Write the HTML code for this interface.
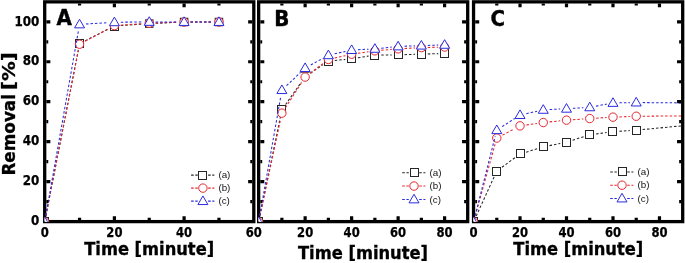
<!DOCTYPE html>
<html><head><meta charset="utf-8"><title>Removal vs Time</title>
<style>html,body{margin:0;padding:0;background:#fff;}svg{display:block;}</style>
</head><body>
<svg width="685" height="263" viewBox="0 0 685 263">
<rect width="685" height="263" fill="#fff"/>
<clipPath id="clipA"><rect x="44.70" y="1.85" width="209.10" height="219.75"/></clipPath>
<rect x="44.70" y="1.85" width="209.10" height="219.75" fill="none" stroke="#000" stroke-width="3.3"/>
<g clip-path="url(#clipA)">
<path d="M45.93 215.62L78.32 49.91 M85.26 40.74L108.69 28.90 M120.78 25.57L142.87 24.04 M155.64 23.31L177.71 22.29 M190.50 22.00L212.55 22.00" fill="none" stroke="#262626" stroke-width="1.05" stroke-dasharray="2.5 2"/>
<rect x="40.50" y="217.50" width="8.00" height="8.00" fill="#fff" stroke="#262626" stroke-width="1.0"/>
<rect x="75.50" y="39.50" width="8.00" height="8.00" fill="#fff" stroke="#262626" stroke-width="1.0"/>
<rect x="110.50" y="22.50" width="8.00" height="8.00" fill="#fff" stroke="#262626" stroke-width="1.0"/>
<rect x="145.50" y="19.85" width="7.50" height="7.50" fill="#fff" stroke="#262626" stroke-width="1.0"/>
<rect x="180.35" y="18.25" width="7.50" height="7.50" fill="#fff" stroke="#262626" stroke-width="1.0"/>
<rect x="215.20" y="18.25" width="7.50" height="7.50" fill="#fff" stroke="#262626" stroke-width="1.0"/>
<path d="M45.93 215.62L78.32 50.51 M85.19 41.22L108.76 28.62 M120.78 25.17L142.87 23.64 M155.65 22.98L177.70 22.22 M190.50 22.00L212.55 22.00" fill="none" stroke="#e8242c" stroke-width="1.05" stroke-dasharray="2.5 2"/>
<circle cx="44.70" cy="221.90" r="4.20" fill="#fff" stroke="#e8242c" stroke-width="1.0"/>
<circle cx="79.55" cy="44.23" r="4.20" fill="#fff" stroke="#e8242c" stroke-width="1.0"/>
<circle cx="114.40" cy="25.61" r="4.20" fill="#fff" stroke="#e8242c" stroke-width="1.0"/>
<circle cx="149.25" cy="23.20" r="4.20" fill="#fff" stroke="#e8242c" stroke-width="1.0"/>
<circle cx="184.10" cy="22.00" r="4.20" fill="#fff" stroke="#e8242c" stroke-width="1.0"/>
<circle cx="218.95" cy="22.00" r="4.20" fill="#fff" stroke="#e8242c" stroke-width="1.0"/>
<path d="M45.81 215.60L78.44 30.71 M85.94 24.01L108.01 22.65 M120.80 22.19L142.85 21.97 M155.65 21.92L177.70 21.98 M190.50 22.00L212.55 22.00" fill="none" stroke="#2a2adf" stroke-width="1.05" stroke-dasharray="2.5 2"/>
<path d="M39.70 225.35L49.70 225.35L44.70 216.75Z" fill="#fff" stroke="#2a2adf" stroke-width="1.0" stroke-linejoin="miter"/>
<path d="M74.55 27.85L84.55 27.85L79.55 19.25Z" fill="#fff" stroke="#2a2adf" stroke-width="1.0" stroke-linejoin="miter"/>
<rect x="108.80" y="16.26" width="11.2" height="9.6" fill="#fff"/>
<path d="M109.40 25.71L119.40 25.71L114.40 17.11Z" fill="#fff" stroke="#2a2adf" stroke-width="1.0" stroke-linejoin="miter"/>
<path d="M144.25 25.35L154.25 25.35L149.25 16.75Z" fill="#fff" stroke="#2a2adf" stroke-width="1.0" stroke-linejoin="miter"/>
<path d="M179.10 25.45L189.10 25.45L184.10 16.85Z" fill="#fff" stroke="#2a2adf" stroke-width="1.0" stroke-linejoin="miter"/>
<path d="M213.95 25.45L223.95 25.45L218.95 16.85Z" fill="#fff" stroke="#2a2adf" stroke-width="1.0" stroke-linejoin="miter"/>
</g>
<path d="M79.55 3.50v2.1 M79.55 219.95v-2.1 M114.40 3.50v3.8 M114.40 219.95v-3.8 M149.25 3.50v2.1 M149.25 219.95v-2.1 M184.10 3.50v3.8 M184.10 219.95v-3.8 M218.95 3.50v2.1 M218.95 219.95v-2.1 M46.35 201.62h1.9 M252.15 201.62h-1.9 M46.35 181.64h4.0 M252.15 181.64h-4.0 M46.35 161.66h1.9 M252.15 161.66h-1.9 M46.35 141.68h4.0 M252.15 141.68h-4.0 M46.35 121.70h1.9 M252.15 121.70h-1.9 M46.35 101.72h4.0 M252.15 101.72h-4.0 M46.35 81.74h1.9 M252.15 81.74h-1.9 M46.35 61.76h4.0 M252.15 61.76h-4.0 M46.35 41.78h1.9 M252.15 41.78h-1.9 M46.35 21.80h4.0 M252.15 21.80h-4.0" stroke="#000" stroke-width="3.2" stroke-linecap="butt" fill="none"/>
<text x="56.5" y="24.8" font-family='"DejaVu Sans Condensed","DejaVu Sans","Liberation Sans",sans-serif' font-weight="bold" font-size="22" stroke="#000" stroke-width="0.4">A</text>
<text x="44.70" y="236.7" text-anchor="middle" textLength="8.1" lengthAdjust="spacingAndGlyphs" font-family='"DejaVu Sans Condensed","DejaVu Sans","Liberation Sans",sans-serif' font-weight="bold" font-size="13.2" stroke="#000" stroke-width="0.25">0</text>
<text x="114.40" y="236.7" text-anchor="middle" textLength="16.1" lengthAdjust="spacingAndGlyphs" font-family='"DejaVu Sans Condensed","DejaVu Sans","Liberation Sans",sans-serif' font-weight="bold" font-size="13.2" stroke="#000" stroke-width="0.25">20</text>
<text x="184.10" y="236.7" text-anchor="middle" textLength="16.1" lengthAdjust="spacingAndGlyphs" font-family='"DejaVu Sans Condensed","DejaVu Sans","Liberation Sans",sans-serif' font-weight="bold" font-size="13.2" stroke="#000" stroke-width="0.25">40</text>
<text x="253.80" y="236.7" text-anchor="middle" textLength="16.1" lengthAdjust="spacingAndGlyphs" font-family='"DejaVu Sans Condensed","DejaVu Sans","Liberation Sans",sans-serif' font-weight="bold" font-size="13.2" stroke="#000" stroke-width="0.25">60</text>
<text x="149.2" y="254.8" text-anchor="middle" textLength="130" stroke="#000" stroke-width="0.3" lengthAdjust="spacingAndGlyphs" font-family='"DejaVu Sans Condensed","DejaVu Sans","Liberation Sans",sans-serif' font-weight="bold" font-size="17.3">Time [minute]</text>
<path d="M191.10 175.10H197.70M208.10 175.10H214.30" stroke="#262626" stroke-width="1.05" stroke-dasharray="2.6 1.6" fill="none"/>
<rect x="198.50" y="171.50" width="8.00" height="8.00" fill="#fff" stroke="#262626" stroke-width="1.0"/>
<text x="218.4" y="178.30" font-family='"Liberation Sans",sans-serif' font-size="9.8" fill="#111">(a)</text>
<path d="M191.10 188.10H197.70M208.10 188.10H214.30" stroke="#e8242c" stroke-width="1.05" stroke-dasharray="2.6 1.6" fill="none"/>
<circle cx="202.90" cy="188.10" r="4.20" fill="#fff" stroke="#e8242c" stroke-width="1.0"/>
<text x="218.4" y="191.30" font-family='"Liberation Sans",sans-serif' font-size="9.8" fill="#111">(b)</text>
<path d="M191.10 201.10H197.70M208.10 201.10H214.30" stroke="#2a2adf" stroke-width="1.05" stroke-dasharray="2.6 1.6" fill="none"/>
<path d="M197.90 204.55L207.90 204.55L202.90 195.95Z" fill="#fff" stroke="#2a2adf" stroke-width="1.0" stroke-linejoin="miter"/>
<text x="218.4" y="204.30" font-family='"Liberation Sans",sans-serif' font-size="9.8" fill="#111">(c)</text>
<clipPath id="clipB"><rect x="258.65" y="1.85" width="209.05" height="219.75"/></clipPath>
<rect x="258.65" y="1.85" width="209.05" height="219.75" fill="none" stroke="#000" stroke-width="3.3"/>
<g clip-path="url(#clipB)">
<path d="M259.95 215.63L280.60 116.00 M285.58 104.50L301.45 82.01 M310.44 73.20L323.08 64.64 M334.76 60.46L345.26 59.46 M357.95 57.82L368.56 56.08 M381.27 54.99L391.72 54.90 M404.52 54.66L414.97 54.34 M427.76 53.96L438.21 53.64" fill="none" stroke="#262626" stroke-width="1.05" stroke-dasharray="2.5 2"/>
<rect x="254.50" y="217.50" width="8.00" height="8.00" fill="#fff" stroke="#262626" stroke-width="1.0"/>
<rect x="277.50" y="105.50" width="8.00" height="8.00" fill="#fff" stroke="#262626" stroke-width="1.0"/>
<path d="M300.64 72.2H309.64" stroke="#262626" stroke-width="1" fill="none"/>
<rect x="324.50" y="57.50" width="8.00" height="8.00" fill="#fff" stroke="#262626" stroke-width="1.0"/>
<rect x="347.50" y="54.50" width="8.00" height="8.00" fill="#fff" stroke="#262626" stroke-width="1.0"/>
<rect x="370.50" y="51.50" width="8.00" height="8.00" fill="#fff" stroke="#262626" stroke-width="1.0"/>
<rect x="394.50" y="50.50" width="8.00" height="8.00" fill="#fff" stroke="#262626" stroke-width="1.0"/>
<rect x="417.50" y="50.50" width="8.00" height="8.00" fill="#fff" stroke="#262626" stroke-width="1.0"/>
<rect x="440.50" y="49.50" width="8.00" height="8.00" fill="#fff" stroke="#262626" stroke-width="1.0"/>
<path d="M259.99 215.64L280.56 119.40 M285.36 107.76L301.67 82.46 M310.24 73.22L323.29 63.32 M334.63 58.06L345.38 55.65 M357.96 53.32L368.54 51.77 M381.25 50.29L391.74 49.39 M404.51 48.51L414.97 47.97 M427.76 47.47L438.21 47.20" fill="none" stroke="#e8242c" stroke-width="1.05" stroke-dasharray="2.5 2"/>
<circle cx="258.65" cy="221.90" r="4.20" fill="#fff" stroke="#e8242c" stroke-width="1.0"/>
<circle cx="281.89" cy="113.14" r="4.20" fill="#fff" stroke="#e8242c" stroke-width="1.0"/>
<circle cx="305.14" cy="77.08" r="4.20" fill="#fff" stroke="#e8242c" stroke-width="1.0"/>
<circle cx="328.38" cy="59.46" r="4.20" fill="#fff" stroke="#e8242c" stroke-width="1.0"/>
<circle cx="351.63" cy="54.25" r="4.20" fill="#fff" stroke="#e8242c" stroke-width="1.0"/>
<circle cx="374.88" cy="50.84" r="4.20" fill="#fff" stroke="#e8242c" stroke-width="1.0"/>
<circle cx="398.12" cy="48.84" r="4.20" fill="#fff" stroke="#e8242c" stroke-width="1.0"/>
<circle cx="421.37" cy="47.64" r="4.20" fill="#fff" stroke="#e8242c" stroke-width="1.0"/>
<circle cx="444.61" cy="47.04" r="4.20" fill="#fff" stroke="#e8242c" stroke-width="1.0"/>
<path d="M259.76 215.60L280.78 96.41 M286.54 85.70L300.50 72.47 M310.74 64.98L322.78 58.34 M334.63 53.85L345.38 51.44 M358.02 49.71L368.48 49.17 M381.24 48.18L391.75 47.10 M404.52 46.22L414.97 45.86 M427.76 45.42L438.21 45.06" fill="none" stroke="#2a2adf" stroke-width="1.05" stroke-dasharray="2.5 2"/>
<path d="M253.65 225.35L263.65 225.35L258.65 216.75Z" fill="#fff" stroke="#2a2adf" stroke-width="1.0" stroke-linejoin="miter"/>
<path d="M276.89 93.55L286.89 93.55L281.89 84.95Z" fill="#fff" stroke="#2a2adf" stroke-width="1.0" stroke-linejoin="miter"/>
<path d="M300.14 71.52L310.14 71.52L305.14 62.92Z" fill="#fff" stroke="#2a2adf" stroke-width="1.0" stroke-linejoin="miter"/>
<path d="M323.38 58.70L333.38 58.70L328.38 50.10Z" fill="#fff" stroke="#2a2adf" stroke-width="1.0" stroke-linejoin="miter"/>
<path d="M346.63 53.49L356.63 53.49L351.63 44.89Z" fill="#fff" stroke="#2a2adf" stroke-width="1.0" stroke-linejoin="miter"/>
<path d="M369.88 52.29L379.88 52.29L374.88 43.69Z" fill="#fff" stroke="#2a2adf" stroke-width="1.0" stroke-linejoin="miter"/>
<path d="M393.12 49.89L403.12 49.89L398.12 41.29Z" fill="#fff" stroke="#2a2adf" stroke-width="1.0" stroke-linejoin="miter"/>
<path d="M416.37 49.09L426.37 49.09L421.37 40.49Z" fill="#fff" stroke="#2a2adf" stroke-width="1.0" stroke-linejoin="miter"/>
<path d="M439.61 48.28L449.61 48.28L444.61 39.68Z" fill="#fff" stroke="#2a2adf" stroke-width="1.0" stroke-linejoin="miter"/>
</g>
<path d="M281.89 3.50v2.1 M281.89 219.95v-2.1 M305.14 3.50v3.8 M305.14 219.95v-3.8 M328.38 3.50v2.1 M328.38 219.95v-2.1 M351.63 3.50v3.8 M351.63 219.95v-3.8 M374.88 3.50v2.1 M374.88 219.95v-2.1 M398.12 3.50v3.8 M398.12 219.95v-3.8 M421.37 3.50v2.1 M421.37 219.95v-2.1 M444.61 3.50v3.8 M444.61 219.95v-3.8 M260.30 201.62h1.9 M466.05 201.62h-1.9 M260.30 181.64h4.0 M466.05 181.64h-4.0 M260.30 161.66h1.9 M466.05 161.66h-1.9 M260.30 141.68h4.0 M466.05 141.68h-4.0 M260.30 121.70h1.9 M466.05 121.70h-1.9 M260.30 101.72h4.0 M466.05 101.72h-4.0 M260.30 81.74h1.9 M466.05 81.74h-1.9 M260.30 61.76h4.0 M466.05 61.76h-4.0 M260.30 41.78h1.9 M466.05 41.78h-1.9 M260.30 21.80h4.0 M466.05 21.80h-4.0" stroke="#000" stroke-width="3.2" stroke-linecap="butt" fill="none"/>
<text x="274.3" y="25.7" font-family='"DejaVu Sans Condensed","DejaVu Sans","Liberation Sans",sans-serif' font-weight="bold" font-size="22" stroke="#000" stroke-width="0.4">B</text>
<text x="305.14" y="236.7" text-anchor="middle" textLength="16.1" lengthAdjust="spacingAndGlyphs" font-family='"DejaVu Sans Condensed","DejaVu Sans","Liberation Sans",sans-serif' font-weight="bold" font-size="13.2" stroke="#000" stroke-width="0.25">20</text>
<text x="351.63" y="236.7" text-anchor="middle" textLength="16.1" lengthAdjust="spacingAndGlyphs" font-family='"DejaVu Sans Condensed","DejaVu Sans","Liberation Sans",sans-serif' font-weight="bold" font-size="13.2" stroke="#000" stroke-width="0.25">40</text>
<text x="398.12" y="236.7" text-anchor="middle" textLength="16.1" lengthAdjust="spacingAndGlyphs" font-family='"DejaVu Sans Condensed","DejaVu Sans","Liberation Sans",sans-serif' font-weight="bold" font-size="13.2" stroke="#000" stroke-width="0.25">60</text>
<text x="444.61" y="236.7" text-anchor="middle" textLength="16.1" lengthAdjust="spacingAndGlyphs" font-family='"DejaVu Sans Condensed","DejaVu Sans","Liberation Sans",sans-serif' font-weight="bold" font-size="13.2" stroke="#000" stroke-width="0.25">80</text>
<text x="363" y="258.8" text-anchor="middle" textLength="130" stroke="#000" stroke-width="0.3" lengthAdjust="spacingAndGlyphs" font-family='"DejaVu Sans Condensed","DejaVu Sans","Liberation Sans",sans-serif' font-weight="bold" font-size="17.3">Time [minute]</text>
<path d="M402.20 172.70H408.80M419.20 172.70H425.40" stroke="#262626" stroke-width="1.05" stroke-dasharray="2.6 1.6" fill="none"/>
<rect x="410.50" y="168.50" width="8.00" height="8.00" fill="#fff" stroke="#262626" stroke-width="1.0"/>
<text x="429.5" y="175.90" font-family='"Liberation Sans",sans-serif' font-size="9.8" fill="#111">(a)</text>
<path d="M402.20 186.05H408.80M419.20 186.05H425.40" stroke="#e8242c" stroke-width="1.05" stroke-dasharray="2.6 1.6" fill="none"/>
<circle cx="414.00" cy="186.05" r="4.20" fill="#fff" stroke="#e8242c" stroke-width="1.0"/>
<text x="429.5" y="189.25" font-family='"Liberation Sans",sans-serif' font-size="9.8" fill="#111">(b)</text>
<path d="M402.20 199.40H408.80M419.20 199.40H425.40" stroke="#2a2adf" stroke-width="1.05" stroke-dasharray="2.6 1.6" fill="none"/>
<path d="M409.00 202.85L419.00 202.85L414.00 194.25Z" fill="#fff" stroke="#2a2adf" stroke-width="1.0" stroke-linejoin="miter"/>
<text x="429.5" y="202.60" font-family='"Liberation Sans",sans-serif' font-size="9.8" fill="#111">(c)</text>
<clipPath id="clipC"><rect x="473.55" y="1.85" width="209.15" height="219.75"/></clipPath>
<rect x="473.55" y="1.85" width="209.15" height="219.75" fill="none" stroke="#000" stroke-width="3.3"/>
<g clip-path="url(#clipC)">
<path d="M476.21 216.08L494.13 176.85 M501.95 167.24L514.87 157.78 M526.15 152.13L537.15 148.76 M549.54 145.62L560.24 143.45 M572.61 140.24L583.65 136.71 M596.10 133.95L606.64 132.59 M619.37 131.32L629.85 130.60 M642.60 129.56L682.71 125.76" fill="none" stroke="#262626" stroke-width="1.05" stroke-dasharray="2.5 2"/>
<rect x="469.50" y="217.50" width="8.00" height="8.00" fill="#fff" stroke="#262626" stroke-width="1.0"/>
<rect x="492.50" y="167.50" width="8.00" height="8.00" fill="#fff" stroke="#262626" stroke-width="1.0"/>
<rect x="516.50" y="149.50" width="8.00" height="8.00" fill="#fff" stroke="#262626" stroke-width="1.0"/>
<rect x="539.50" y="142.50" width="8.00" height="8.00" fill="#fff" stroke="#262626" stroke-width="1.0"/>
<rect x="562.50" y="138.50" width="8.00" height="8.00" fill="#fff" stroke="#262626" stroke-width="1.0"/>
<rect x="585.50" y="130.50" width="8.00" height="8.00" fill="#fff" stroke="#262626" stroke-width="1.0"/>
<rect x="608.50" y="127.50" width="8.00" height="8.00" fill="#fff" stroke="#262626" stroke-width="1.0"/>
<rect x="632.50" y="126.50" width="8.00" height="8.00" fill="#fff" stroke="#262626" stroke-width="1.0"/>
<path d="M475.26 215.73L495.08 144.24 M502.45 135.10L514.37 128.83 M526.37 124.96L536.93 123.45 M549.64 121.89L560.14 120.81 M572.89 119.71L583.37 118.99 M596.14 118.16L606.60 117.53 M619.39 116.90L629.83 116.49 M642.63 116.20L682.71 115.94" fill="none" stroke="#e8242c" stroke-width="1.05" stroke-dasharray="2.5 2"/>
<circle cx="473.55" cy="221.90" r="4.20" fill="#fff" stroke="#e8242c" stroke-width="1.0"/>
<circle cx="496.79" cy="138.07" r="4.20" fill="#fff" stroke="#e8242c" stroke-width="1.0"/>
<circle cx="520.03" cy="125.86" r="4.20" fill="#fff" stroke="#e8242c" stroke-width="1.0"/>
<circle cx="543.27" cy="122.55" r="4.20" fill="#fff" stroke="#e8242c" stroke-width="1.0"/>
<circle cx="566.51" cy="120.15" r="4.20" fill="#fff" stroke="#e8242c" stroke-width="1.0"/>
<circle cx="589.75" cy="118.55" r="4.20" fill="#fff" stroke="#e8242c" stroke-width="1.0"/>
<circle cx="612.99" cy="117.14" r="4.20" fill="#fff" stroke="#e8242c" stroke-width="1.0"/>
<circle cx="636.23" cy="116.24" r="4.20" fill="#fff" stroke="#e8242c" stroke-width="1.0"/>
<path d="M475.12 215.70L495.22 136.37 M502.15 126.67L514.67 118.53 M526.28 113.64L537.02 111.23 M549.66 109.53L560.12 109.03 M572.90 108.35L583.36 107.71 M596.04 106.14L606.70 104.11 M619.39 102.81L629.83 102.63 M642.63 102.58L682.71 102.92" fill="none" stroke="#2a2adf" stroke-width="1.05" stroke-dasharray="2.5 2"/>
<path d="M468.55 225.35L478.55 225.35L473.55 216.75Z" fill="#fff" stroke="#2a2adf" stroke-width="1.0" stroke-linejoin="miter"/>
<path d="M491.79 133.61L501.79 133.61L496.79 125.01Z" fill="#fff" stroke="#2a2adf" stroke-width="1.0" stroke-linejoin="miter"/>
<path d="M515.03 118.49L525.03 118.49L520.03 109.89Z" fill="#fff" stroke="#2a2adf" stroke-width="1.0" stroke-linejoin="miter"/>
<path d="M538.27 113.28L548.27 113.28L543.27 104.68Z" fill="#fff" stroke="#2a2adf" stroke-width="1.0" stroke-linejoin="miter"/>
<path d="M561.51 112.18L571.51 112.18L566.51 103.58Z" fill="#fff" stroke="#2a2adf" stroke-width="1.0" stroke-linejoin="miter"/>
<path d="M584.75 110.78L594.75 110.78L589.75 102.18Z" fill="#fff" stroke="#2a2adf" stroke-width="1.0" stroke-linejoin="miter"/>
<path d="M607.99 106.37L617.99 106.37L612.99 97.77Z" fill="#fff" stroke="#2a2adf" stroke-width="1.0" stroke-linejoin="miter"/>
<path d="M631.23 105.97L641.23 105.97L636.23 97.37Z" fill="#fff" stroke="#2a2adf" stroke-width="1.0" stroke-linejoin="miter"/>
</g>
<path d="M496.79 3.50v2.1 M496.79 219.95v-2.1 M520.03 3.50v3.8 M520.03 219.95v-3.8 M543.27 3.50v2.1 M543.27 219.95v-2.1 M566.51 3.50v3.8 M566.51 219.95v-3.8 M589.75 3.50v2.1 M589.75 219.95v-2.1 M612.99 3.50v3.8 M612.99 219.95v-3.8 M636.23 3.50v2.1 M636.23 219.95v-2.1 M659.47 3.50v3.8 M659.47 219.95v-3.8 M475.20 201.62h1.9 M681.05 201.62h-1.9 M475.20 181.64h4.0 M681.05 181.64h-4.0 M475.20 161.66h1.9 M681.05 161.66h-1.9 M475.20 141.68h4.0 M681.05 141.68h-4.0 M475.20 121.70h1.9 M681.05 121.70h-1.9 M475.20 101.72h4.0 M681.05 101.72h-4.0 M475.20 81.74h1.9 M681.05 81.74h-1.9 M475.20 61.76h4.0 M681.05 61.76h-4.0 M475.20 41.78h1.9 M681.05 41.78h-1.9 M475.20 21.80h4.0 M681.05 21.80h-4.0" stroke="#000" stroke-width="3.2" stroke-linecap="butt" fill="none"/>
<text x="490.5" y="26.4" font-family='"DejaVu Sans Condensed","DejaVu Sans","Liberation Sans",sans-serif' font-weight="bold" font-size="22" stroke="#000" stroke-width="0.4">C</text>
<text x="473.55" y="236.7" text-anchor="middle" textLength="8.1" lengthAdjust="spacingAndGlyphs" font-family='"DejaVu Sans Condensed","DejaVu Sans","Liberation Sans",sans-serif' font-weight="bold" font-size="13.2" stroke="#000" stroke-width="0.25">0</text>
<text x="520.03" y="236.7" text-anchor="middle" textLength="16.1" lengthAdjust="spacingAndGlyphs" font-family='"DejaVu Sans Condensed","DejaVu Sans","Liberation Sans",sans-serif' font-weight="bold" font-size="13.2" stroke="#000" stroke-width="0.25">20</text>
<text x="566.51" y="236.7" text-anchor="middle" textLength="16.1" lengthAdjust="spacingAndGlyphs" font-family='"DejaVu Sans Condensed","DejaVu Sans","Liberation Sans",sans-serif' font-weight="bold" font-size="13.2" stroke="#000" stroke-width="0.25">40</text>
<text x="612.99" y="236.7" text-anchor="middle" textLength="16.1" lengthAdjust="spacingAndGlyphs" font-family='"DejaVu Sans Condensed","DejaVu Sans","Liberation Sans",sans-serif' font-weight="bold" font-size="13.2" stroke="#000" stroke-width="0.25">60</text>
<text x="659.47" y="236.7" text-anchor="middle" textLength="16.1" lengthAdjust="spacingAndGlyphs" font-family='"DejaVu Sans Condensed","DejaVu Sans","Liberation Sans",sans-serif' font-weight="bold" font-size="13.2" stroke="#000" stroke-width="0.25">80</text>
<text x="578.3" y="254.8" text-anchor="middle" textLength="130" stroke="#000" stroke-width="0.3" lengthAdjust="spacingAndGlyphs" font-family='"DejaVu Sans Condensed","DejaVu Sans","Liberation Sans",sans-serif' font-weight="bold" font-size="17.3">Time [minute]</text>
<path d="M610.20 171.90H616.80M627.20 171.90H633.40" stroke="#262626" stroke-width="1.05" stroke-dasharray="2.6 1.6" fill="none"/>
<rect x="618.50" y="167.50" width="8.00" height="8.00" fill="#fff" stroke="#262626" stroke-width="1.0"/>
<text x="637.5" y="175.10" font-family='"Liberation Sans",sans-serif' font-size="9.8" fill="#111">(a)</text>
<path d="M610.20 185.20H616.80M627.20 185.20H633.40" stroke="#e8242c" stroke-width="1.05" stroke-dasharray="2.6 1.6" fill="none"/>
<circle cx="622.00" cy="185.20" r="4.20" fill="#fff" stroke="#e8242c" stroke-width="1.0"/>
<text x="637.5" y="188.40" font-family='"Liberation Sans",sans-serif' font-size="9.8" fill="#111">(b)</text>
<path d="M610.20 198.50H616.80M627.20 198.50H633.40" stroke="#2a2adf" stroke-width="1.05" stroke-dasharray="2.6 1.6" fill="none"/>
<path d="M617.00 201.95L627.00 201.95L622.00 193.35Z" fill="#fff" stroke="#2a2adf" stroke-width="1.0" stroke-linejoin="miter"/>
<text x="637.5" y="201.70" font-family='"Liberation Sans",sans-serif' font-size="9.8" fill="#111">(c)</text>
<text x="39.3" y="225.30" text-anchor="end" textLength="8.3" lengthAdjust="spacingAndGlyphs" font-family='"DejaVu Sans Condensed","DejaVu Sans","Liberation Sans",sans-serif' font-weight="bold" font-size="13.2" stroke="#000" stroke-width="0.25">0</text>
<text x="39.3" y="185.34" text-anchor="end" textLength="16.6" lengthAdjust="spacingAndGlyphs" font-family='"DejaVu Sans Condensed","DejaVu Sans","Liberation Sans",sans-serif' font-weight="bold" font-size="13.2" stroke="#000" stroke-width="0.25">20</text>
<text x="39.3" y="145.38" text-anchor="end" textLength="16.6" lengthAdjust="spacingAndGlyphs" font-family='"DejaVu Sans Condensed","DejaVu Sans","Liberation Sans",sans-serif' font-weight="bold" font-size="13.2" stroke="#000" stroke-width="0.25">40</text>
<text x="39.3" y="105.42" text-anchor="end" textLength="16.6" lengthAdjust="spacingAndGlyphs" font-family='"DejaVu Sans Condensed","DejaVu Sans","Liberation Sans",sans-serif' font-weight="bold" font-size="13.2" stroke="#000" stroke-width="0.25">60</text>
<text x="39.3" y="65.46" text-anchor="end" textLength="16.6" lengthAdjust="spacingAndGlyphs" font-family='"DejaVu Sans Condensed","DejaVu Sans","Liberation Sans",sans-serif' font-weight="bold" font-size="13.2" stroke="#000" stroke-width="0.25">80</text>
<text x="39.3" y="25.50" text-anchor="end" textLength="24.9" lengthAdjust="spacingAndGlyphs" font-family='"DejaVu Sans Condensed","DejaVu Sans","Liberation Sans",sans-serif' font-weight="bold" font-size="13.2" stroke="#000" stroke-width="0.25">100</text>
<text transform="translate(14.6,175.6) rotate(-90)" font-family='"DejaVu Sans Condensed","DejaVu Sans","Liberation Sans",sans-serif' font-weight="bold" font-size="17" stroke="#000" stroke-width="0.3"><tspan textLength="81.6" lengthAdjust="spacingAndGlyphs">Removal</tspan> </text>
<text transform="translate(14.6,90.0) rotate(-90)" textLength="37.8" lengthAdjust="spacingAndGlyphs" font-family='"DejaVu Sans Condensed","DejaVu Sans","Liberation Sans",sans-serif' font-weight="bold" font-size="17" stroke="#000" stroke-width="0.3">[%]</text>
</svg>
</body></html>
